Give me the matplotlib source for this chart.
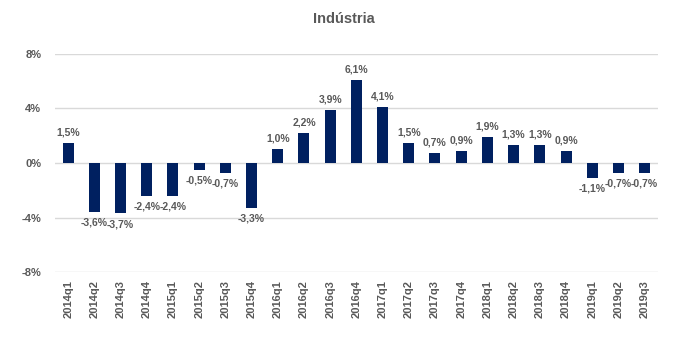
import numpy as np
import matplotlib.pyplot as plt
from matplotlib.ticker import FuncFormatter

plt.rcParams["font.family"] = ["Liberation Sans", "DejaVu Sans"]

quarters = ["2014q1", "2014q2", "2014q3", "2014q4",
            "2015q1", "2015q2", "2015q3", "2015q4",
            "2016q1", "2016q2", "2016q3", "2016q4",
            "2017q1", "2017q2", "2017q3", "2017q4",
            "2018q1", "2018q2", "2018q3", "2018q4",
            "2019q1", "2019q2", "2019q3"]
growth = [1.5, -3.6, -3.7, -2.4,
          -2.4, -0.5, -0.7, -3.3,
          1.0, 2.2, 3.9, 6.1,
          4.1, 1.5, 0.7, 0.9,
          1.9, 1.3, 1.3, 0.9,
          -1.1, -0.7, -0.7]
yticks = [-8, -4, 0, 4, 8]

bar_color = "#002060"
text_color = "#595959"

fig = plt.figure(figsize=(6.88, 3.48), dpi=100)
ax = fig.add_axes([0.08, 0.218, 0.876, 0.627])

x = np.arange(len(quarters))
ax.bar(x, growth, width=0.42, color=bar_color, zorder=3)

for xi, v in zip(x, growth):
    label = f"{v:.1f}%".replace(".", ",")
    if v >= 0:
        ax.annotate(label, (xi, v), xytext=(0, 4), textcoords="offset points",
                    ha="center", va="bottom", fontsize=7.5, color=text_color, fontweight="bold")
    else:
        ax.annotate(label, (xi, v), xytext=(0, -4), textcoords="offset points",
                    ha="center", va="top", fontsize=7.5, color=text_color, fontweight="bold")

ax.set_ylim(-8, 8)
ax.set_xlim(-0.5, len(quarters) - 0.5)
ax.set_yticks(yticks)
ax.yaxis.set_major_formatter(FuncFormatter(lambda v, p: f"{v:.0f}%"))
ax.set_xticks(x)
ax.set_xticklabels(quarters, rotation=90)
ax.tick_params(axis="both", length=0, labelsize=8, colors=text_color)
ax.tick_params(axis="y", pad=10)
ax.tick_params(axis="x", pad=6)
for lbl in ax.get_xticklabels() + ax.get_yticklabels():
    lbl.set_fontweight("bold")

ax.grid(axis="y", color="#d9d9d9", linewidth=1, zorder=0)
for s in ax.spines.values():
    s.set_visible(False)

fig.text(0.5, 0.945, "Indústria", ha="center", va="center", fontsize=10.5,
         fontweight="bold", color=text_color)

fig.savefig("out.png", dpi=100)
